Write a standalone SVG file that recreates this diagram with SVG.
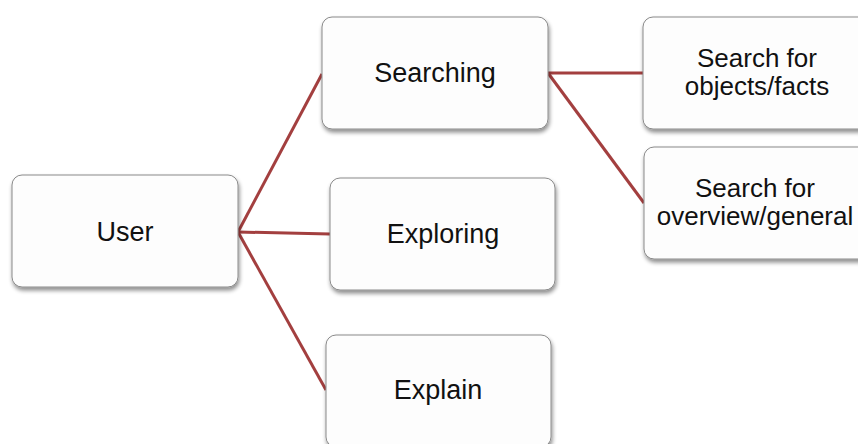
<svg xmlns="http://www.w3.org/2000/svg" width="858" height="444" viewBox="0 0 858 444">
<defs>
<filter id="sh" x="-10%" y="-10%" width="130%" height="140%">
<feGaussianBlur in="SourceAlpha" stdDeviation="2"/>
<feOffset dx="1" dy="3" result="b"/>
<feComponentTransfer><feFuncA type="linear" slope="0.45"/></feComponentTransfer>
<feMerge><feMergeNode/><feMergeNode in="SourceGraphic"/></feMerge>
</filter>
</defs>
<style>
.box{fill:#fdfdfd;stroke:#8a8a8a;stroke-width:1;filter:url(#sh)}
.t{font-family:"Liberation Sans",Arial,sans-serif;font-size:27px;fill:#111;text-anchor:middle}
.t2{font-size:26px}
.c{stroke:#a33f3f;stroke-width:3;fill:none}
</style>
<rect width="858" height="444" fill="#ffffff"/>
<g id="connectors">
<line class="c" x1="238" y1="232" x2="322" y2="74"/>
<line class="c" x1="238" y1="232" x2="330" y2="234"/>
<line class="c" x1="238" y1="232" x2="326" y2="390"/>
<line class="c" x1="548" y1="73" x2="643" y2="73"/>
<line class="c" x1="548" y1="73" x2="644" y2="203"/>
</g>
<g id="user">
<rect class="box" x="12" y="175" width="226" height="112" rx="10"/>
<text class="t" x="125" y="241">User</text>
</g>
<g id="searching">
<rect class="box" x="322" y="17" width="226" height="112" rx="10"/>
<text class="t" x="435" y="82">Searching</text>
</g>
<g id="exploring">
<rect class="box" x="330" y="178" width="225" height="112" rx="10"/>
<text class="t" x="443" y="243">Exploring</text>
</g>
<g id="explain">
<rect class="box" x="326" y="335" width="225" height="112" rx="10"/>
<text class="t" x="438" y="399">Explain</text>
</g>
<g id="objects">
<rect class="box" x="643" y="17" width="226" height="112" rx="10"/>
<text class="t t2" x="757" y="67">Search for</text>
<text class="t t2" x="757" y="95">objects/facts</text>
</g>
<g id="overview">
<rect class="box" x="644" y="147" width="226" height="112" rx="10"/>
<text class="t t2" x="755" y="197">Search for</text>
<text class="t t2" x="755" y="225">overview/general</text>
</g>
</svg>
